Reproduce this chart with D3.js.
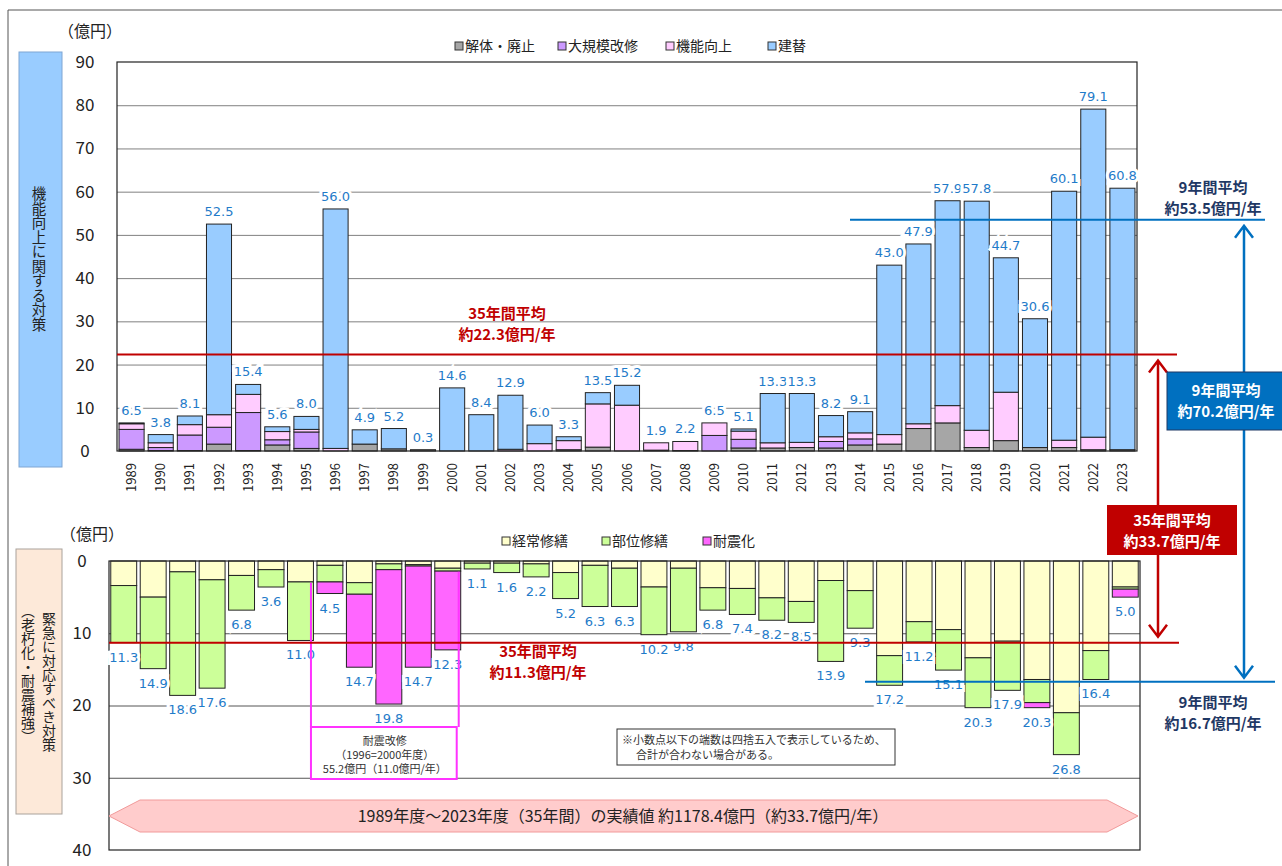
<!DOCTYPE html>
<html>
<head>
<meta charset="utf-8">
<script src="https://cdn.jsdelivr.net/npm/d3@7"></script>
<style>
  body { margin: 0; background: #fff; }
  svg { display: block; }
  text { font-family: "Noto Sans CJK JP", "Noto Sans", sans-serif; }
  .num { font-family: "DejaVu Sans", Verdana, sans-serif; }
</style>
</head>
<body>
<svg id="chart" width="1282" height="866"></svg>
<script>
// years (fiscal)
const years = ["1989","1990","1991","1992","1993","1994","1995","1996","1997","1998","1999","2000",
  "2001","2002","2003","2004","2005","2006","2007","2008","2009","2010","2011","2012","2013","2014",
  "2015","2016","2017","2018","2019","2020","2021","2022","2023"];

// upper chart: 機能向上に関する対策 (億円)
const topKeys = ["解体・廃止", "大規模改修", "機能向上", "建替"];
const demolition = [0.4,0.1,0.1,1.6,0.1,1.4,0.6,0,1.6,0.5,0.3,0,0,0,0,0.3,0.9,0,0.2,0.1,0,0.7,0.7,0.8,0.7,1.4,1.6,5.2,6.5,0.8,2.4,0.8,0.8,0.3,0.3];
const largeRenovation = [4.6,0.7,3.6,3.9,8.8,1.2,3.8,0,0,0,0,0,0,0,0,0,0,0,0,0,3.6,2.0,0,0,1.5,1.4,0,0,0,0,0,0,0,0,0];
const improvement = [1.3,1.1,2.4,2.9,4.2,1.9,0.6,0.6,0,0,0,0,0,0.4,1.7,2.1,10.0,10.6,1.7,2.1,2.9,1.9,1.2,1.2,1.1,1.4,2.2,1.1,4.0,4.0,11.2,0,1.7,2.9,0];
const rebuild = [0.2,1.9,2.0,44.1,2.3,1.1,3.0,55.4,3.3,4.7,0,14.6,8.4,12.5,4.3,0.9,2.6,4.6,0,0,0,0.5,11.4,11.3,4.9,4.9,39.2,41.6,47.4,53.0,31.1,29.8,57.6,75.9,60.5];
const topTotals = [6.5,3.8,8.1,52.5,15.4,5.6,8.0,56.0,4.9,5.2,0.3,14.6,8.4,12.9,6.0,3.3,13.5,15.2,1.9,2.2,6.5,5.1,13.3,13.3,8.2,9.1,43.0,47.9,57.9,57.8,44.7,30.6,60.1,79.1,60.8];
const topTicks = [0,10,20,30,40,50,60,70,80,90];

// lower chart: 緊急に対応すべき対策 (億円)
const bottomKeys = ["経常修繕", "部位修繕", "耐震化"];
const regularRepair = [3.4,5.0,1.5,2.6,2.0,1.2,2.9,0.6,3.0,0.4,0.5,1.0,0.3,0.3,0.4,1.6,0.6,1.0,3.6,1.0,3.7,3.8,5.1,5.6,2.7,4.1,13.1,8.4,9.5,13.4,11.1,16.4,21.0,12.4,3.6];
const partRepair = [7.9,9.9,17.1,15.0,4.8,2.4,8.1,2.3,1.6,0.8,0.2,0.4,0.8,1.3,1.8,3.6,5.7,5.3,6.6,8.8,3.1,3.6,3.1,2.9,11.2,5.2,4.1,2.8,5.6,6.9,6.8,3.2,5.8,4.0,0.3];
const seismic = [0,0,0,0,0,0,0,1.6,10.1,18.6,14.0,10.9,0,0,0,0,0,0,0,0,0,0,0,0,0,0,0,0,0,0,0,0.7,0,0,1.1];
const bottomTotals = [11.3,14.9,18.6,17.6,6.8,3.6,11.0,4.5,14.7,19.8,14.7,12.3,1.1,1.6,2.2,5.2,6.3,6.3,10.2,9.8,6.8,7.4,8.2,8.5,13.9,9.3,17.2,11.2,15.1,20.3,17.9,20.3,26.8,16.4,5.0];
const bottomTicks = [0,10,20,30,40];

// averages
const avgTop35 = 22.3, avgTop9 = 53.5;
const avgBottom35 = 11.3, avgBottom9 = 16.7;

const topColors = {"解体・廃止":"#a6a6a6","大規模改修":"#cc99ff","機能向上":"#ffccff","建替":"#99ccff"};
const bottomColors = {"経常修繕":"#ffffcc","部位修繕":"#ccff99","耐震化":"#ff66ff"};
const labelBlue = "#1f7bc9";
const red = "#c00000";
const navy = "#1f3864";
const blue = "#0070c0";

const svg = d3.select("#chart");

// outer frame
svg.append("path").attr("d", "M8,866V10H1282").attr("fill", "none").attr("stroke", "#555");

// ---------- upper chart ----------
const topRows = years.map((y, i) => ({year: y, "解体・廃止": demolition[i], "大規模改修": largeRenovation[i], "機能向上": improvement[i], "建替": rebuild[i]}));
const xT = d3.scaleBand().domain(years).range([117, 1137]).paddingInner(0.14).paddingOuter(0.07);
const yT = d3.scaleLinear().domain([0, 90]).range([451, 62]);

// side label box
svg.append("rect").attr("x", 19).attr("y", 52).attr("width", 43).attr("height", 415)
  .attr("fill", "#99ccff").attr("stroke", "#7fa6d3");
svg.append("text").attr("x", 39).attr("y", 259).attr("text-anchor", "middle")
  .style("writing-mode", "vertical-rl").attr("font-size", 14.5).attr("fill", "#222")
  .text("機能向上に関する対策");

svg.append("text").attr("x", 58).attr("y", 37).attr("font-size", 16).attr("fill", "#222").text("（億円）");

// grid
svg.append("g").attr("transform", "translate(117,0)")
  .call(d3.axisLeft(yT).tickValues(topTicks.slice(1, -1)).tickSize(-1020).tickFormat(""))
  .call(g => g.select(".domain").remove())
  .call(g => g.selectAll("line").attr("stroke", "#808080"));

// y tick labels
svg.append("g").attr("transform", "translate(117,0)")
  .call(d3.axisLeft(yT).tickValues(topTicks).tickSize(0))
  .call(g => g.select(".domain").remove())
  .call(g => g.selectAll("text").attr("x", -32).attr("text-anchor", "middle")
    .attr("font-size", 17).attr("fill", "#222").attr("font-family", "DejaVu Sans, sans-serif"));

// bars
const topStack = d3.stack().keys(topKeys)(topRows);
svg.append("g").selectAll("g").data(topStack).join("g")
  .attr("fill", d => topColors[d.key])
  .selectAll("rect").data(d => d.filter(s => s[1] - s[0] > 0)).join("rect")
  .attr("x", d => xT(d.data.year))
  .attr("width", xT.bandwidth())
  .attr("y", d => yT(d[1]))
  .attr("height", d => yT(d[0]) - yT(d[1]))
  .attr("stroke", "#222").attr("stroke-width", 1);

// frame
svg.append("rect").attr("x", 117).attr("y", 62).attr("width", 1020).attr("height", 389)
  .attr("fill", "none").attr("stroke", "#222").attr("stroke-width", 1.2);

// totals
svg.append("g").selectAll("text").data(years).join("text")
  .attr("class", "num")
  .attr("x", d => xT(d) + xT.bandwidth() / 2)
  .attr("y", (d, i) => yT(topTotals[i]) - 8)
  .attr("text-anchor", "middle").attr("font-size", 13).attr("fill", labelBlue)
  .attr("stroke", "#fff").attr("stroke-width", 6).attr("paint-order", "stroke")
  .text((d, i) => topTotals[i].toFixed(1));

// year axis
svg.append("g").attr("transform", "translate(0,451)")
  .call(d3.axisBottom(xT).tickSize(0))
  .call(g => g.select(".domain").remove())
  .call(g => g.selectAll("text").attr("transform", "rotate(-90)").attr("text-anchor", "end")
    .attr("x", -12).attr("y", 0).attr("dy", "0.35em")
    .attr("font-size", 13).attr("fill", "#222").attr("font-family", "DejaVu Sans, sans-serif"));

// legend
const topLegendX = [455, 558, 666, 768];
topKeys.forEach((k, i) => {
  svg.append("rect").attr("x", topLegendX[i]).attr("y", 42).attr("width", 8).attr("height", 8)
    .attr("fill", topColors[k]).attr("stroke", "#333");
  svg.append("text").attr("x", topLegendX[i] + 10).attr("y", 51).attr("font-size", 14).attr("fill", "#222").text(k);
});

// ---------- lower chart ----------
const bottomRows = years.map((y, i) => ({year: y, "経常修繕": regularRepair[i], "部位修繕": partRepair[i], "耐震化": seismic[i]}));
const xB = d3.scaleBand().domain(years).range([109, 1140]).paddingInner(0.12).paddingOuter(0.06);
const yB = d3.scaleLinear().domain([0, 40]).range([561, 850]);

svg.append("rect").attr("x", 16).attr("y", 549).attr("width", 46).attr("height", 265)
  .attr("fill", "#fde9d9").attr("stroke", "#a9a29b");
svg.append("text").attr("x", 49).attr("y", 682).attr("text-anchor", "middle")
  .style("writing-mode", "vertical-rl").attr("font-size", 14).attr("fill", "#222")
  .text("緊急に対応すべき対策");
svg.append("text").attr("x", 28).attr("y", 674).attr("text-anchor", "middle")
  .style("writing-mode", "vertical-rl").attr("font-size", 14).attr("fill", "#222")
  .text("（老朽化・耐震補強）");

svg.append("text").attr("x", 60).attr("y", 540).attr("font-size", 16).attr("fill", "#222").text("（億円）");

svg.append("g").attr("transform", "translate(109,0)")
  .call(d3.axisLeft(yB).tickValues(bottomTicks.slice(1, -1)).tickSize(-1031).tickFormat(""))
  .call(g => g.select(".domain").remove())
  .call(g => g.selectAll("line").attr("stroke", "#555"));

svg.append("g").attr("transform", "translate(109,0)")
  .call(d3.axisLeft(yB).tickValues(bottomTicks).tickSize(0))
  .call(g => g.select(".domain").remove())
  .call(g => g.selectAll("text").attr("x", -27).attr("text-anchor", "middle")
    .attr("font-size", 17).attr("fill", "#222").attr("font-family", "DejaVu Sans, sans-serif"));

const bottomStack = d3.stack().keys(bottomKeys)(bottomRows);
svg.append("g").selectAll("g").data(bottomStack).join("g")
  .attr("fill", d => bottomColors[d.key])
  .selectAll("rect").data(d => d.filter(s => s[1] - s[0] > 0)).join("rect")
  .attr("x", d => xB(d.data.year))
  .attr("width", xB.bandwidth())
  .attr("y", d => yB(d[0]))
  .attr("height", d => yB(d[1]) - yB(d[0]))
  .attr("stroke", "#222").attr("stroke-width", 1);

svg.append("rect").attr("x", 109).attr("y", 561).attr("width", 1031).attr("height", 289)
  .attr("fill", "none").attr("stroke", "#222").attr("stroke-width", 1.2);

svg.append("g").selectAll("text").data(years).join("text")
  .attr("class", "num")
  .attr("x", d => xB(d) + xB.bandwidth() / 2)
  .attr("y", (d, i) => yB(bottomTotals[i]) + 19)
  .attr("text-anchor", "middle").attr("font-size", 13).attr("fill", labelBlue)
  .attr("stroke", "#fff").attr("stroke-width", 6).attr("paint-order", "stroke")
  .text((d, i) => bottomTotals[i].toFixed(1));

const bottomLegendX = [502, 602, 703];
bottomKeys.forEach((k, i) => {
  svg.append("rect").attr("x", bottomLegendX[i]).attr("y", 537).attr("width", 8).attr("height", 8)
    .attr("fill", bottomColors[k]).attr("stroke", "#333");
  svg.append("text").attr("x", bottomLegendX[i] + 10).attr("y", 546).attr("font-size", 14).attr("fill", "#222").text(k);
});

// seismic bracket
const brL = xB("1996") - 6, brR = xB("2000") + xB.bandwidth() - 2;
svg.append("path").attr("d", `M${brL},${yB(3)}V727M${brR},${yB(1.5)}V727`)
  .attr("stroke", "#ff33ff").attr("stroke-width", 2).attr("fill", "none");
svg.append("rect").attr("x", brL).attr("y", 727).attr("width", brR - brL - 2).attr("height", 52)
  .attr("fill", "#fff").attr("stroke", "#ff33ff").attr("stroke-width", 2);
["耐震改修", "（1996=2000年度）", "55.2億円（11.0億円/年）"].forEach((t, i) => {
  svg.append("text").attr("x", (brL + brR) / 2).attr("y", 745 + i * 14).attr("text-anchor", "middle")
    .attr("font-size", 11).attr("fill", "#333").text(t);
});

// note
svg.append("rect").attr("x", 617).attr("y", 729).attr("width", 278).attr("height", 36)
  .attr("fill", "#fff").attr("stroke", "#333");
svg.append("text").attr("x", 622).attr("y", 744).attr("font-size", 11).attr("fill", "#333")
  .text("※小数点以下の端数は四捨五入で表示しているため、");
svg.append("text").attr("x", 636).attr("y", 759).attr("font-size", 11).attr("fill", "#333")
  .text("合計が合わない場合がある。");

// banner
svg.append("path").attr("d", "M109,816L140,800H1107L1138,816L1107,832H140Z")
  .attr("fill", "#ffcccc").attr("stroke", "#f19a9a");
svg.append("text").attr("x", 623).attr("y", 822).attr("text-anchor", "middle").attr("font-size", 16)
  .attr("fill", "#222").text("1989年度～2023年度（35年間）の実績値  約1178.4億円（約33.7億円/年）");

// ---------- average lines and arrows ----------
function hline(x1, x2, y, color) {
  svg.append("line").attr("x1", x1).attr("x2", x2).attr("y1", y).attr("y2", y)
    .attr("stroke", color).attr("stroke-width", 2);
}
function twoLines(x, y, lines, color, size) {
  lines.forEach((t, i) => svg.append("text").attr("x", x).attr("y", y + i * 21)
    .attr("text-anchor", "middle").attr("font-size", size).attr("font-weight", "bold")
    .attr("fill", color).text(t));
}
function vArrow(x, y1, y2, color) {
  svg.append("path")
    .attr("d", `M${x},${y1}V${y2}M${x - 9},${y1 + 12}L${x},${y1}L${x + 9},${y1 + 12}M${x - 9},${y2 - 12}L${x},${y2}L${x + 9},${y2 - 12}`)
    .attr("stroke", color).attr("stroke-width", 2.5).attr("fill", "none");
}

hline(117, 1177, yT(avgTop35), red);
twoLines(507, 319, ["35年間平均", "約22.3億円/年"], red, 15);
hline(850, 1265, yT(avgTop9), blue);
twoLines(1213, 193, ["9年間平均", "約53.5億円/年"], navy, 15);

hline(109, 1179, yB(avgBottom35), red);
twoLines(538, 657, ["35年間平均", "約11.3億円/年"], red, 15);
hline(865, 1275, yB(avgBottom9), blue);
twoLines(1213, 708, ["9年間平均", "約16.7億円/年"], navy, 15);

vArrow(1158, yT(avgTop35) + 6, yB(avgBottom35) - 6, red);
vArrow(1244, yT(avgTop9) + 6, yB(avgBottom9) - 4, blue);

svg.append("rect").attr("x", 1167).attr("y", 372).attr("width", 116).attr("height", 58)
  .attr("fill", blue).attr("stroke", navy);
twoLines(1226, 396, ["9年間平均", "約70.2億円/年"], "#fff", 15);

svg.append("rect").attr("x", 1107).attr("y", 505).attr("width", 130).attr("height", 50)
  .attr("fill", red);
twoLines(1172, 526, ["35年間平均", "約33.7億円/年"], "#fff", 15);
</script>
</body>
</html>
